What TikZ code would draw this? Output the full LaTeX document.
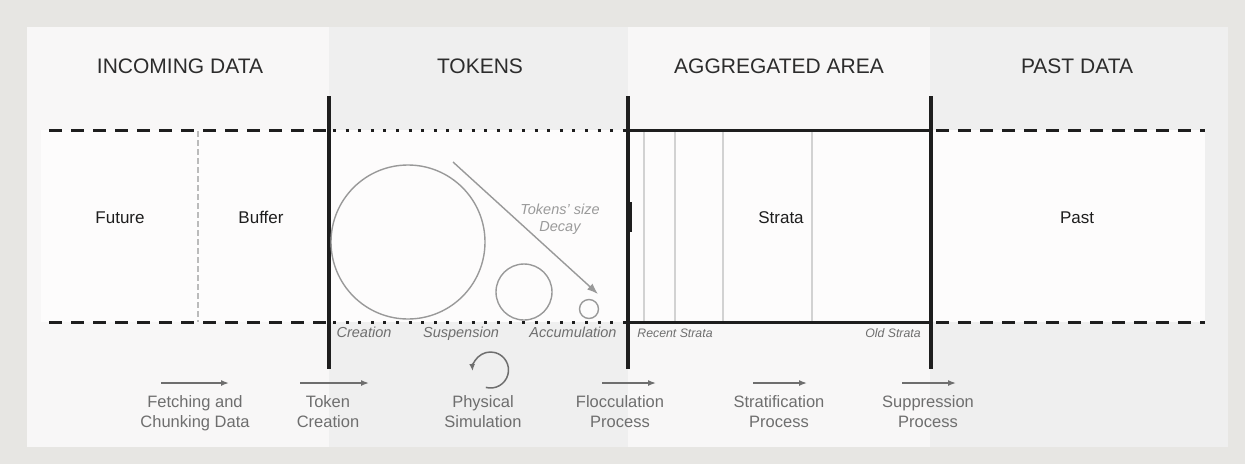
\documentclass[tikz,border=0pt]{standalone}
\usepackage{fontspec}
\setmainfont{Liberation Sans}
\usetikzlibrary{arrows.meta}
\definecolor{outerbg}{HTML}{E7E6E3}
\definecolor{colA}{HTML}{F8F7F7}
\definecolor{colB}{HTML}{EFEFEF}
\definecolor{bandc}{HTML}{FDFCFC}
\definecolor{ink}{HTML}{1E1E1E}
\definecolor{hdrink}{HTML}{2C2C2C}
\definecolor{labelgray}{HTML}{6E6E6E}
\definecolor{lightgray2}{HTML}{9A9A9A}
\definecolor{circgray}{HTML}{999999}
\definecolor{stratline}{HTML}{D2D2D2}
\definecolor{bufline}{HTML}{BBBBBB}
\begin{document}
\begin{tikzpicture}[x=1pt,y=-1pt,
  hdr/.style={anchor=base,inner sep=0pt,text=hdrink,font=\fontsize{21}{24}\selectfont},
  body/.style={anchor=base,inner sep=0pt,text=ink,font=\fontsize{17}{20}\selectfont},
  ital/.style={anchor=base,inner sep=0pt,text=labelgray,font=\fontsize{14.5}{17}\selectfont\itshape},
  smallital/.style={anchor=base,inner sep=0pt,text=labelgray,font=\fontsize{12.3}{15}\selectfont\itshape},
  proc/.style={anchor=north,inner sep=0pt,align=center,text=labelgray,font=\fontsize{16.5}{20}\selectfont},
  dashln/.style={draw=ink,line width=3pt,dash pattern=on 13pt off 9pt},
  dotln/.style={draw=ink,line width=3pt,dash pattern=on 3pt off 9.6pt},
  solidln/.style={draw=ink,line width=3pt},
  wall/.style={draw=ink,line width=4pt},
  procarrow/.style={draw=labelgray,line width=1.5pt,-{Latex[length=8pt,width=6pt]}},
  token/.style={draw=circgray,line width=1.4pt},
  stratum/.style={draw=stratline,line width=1.3pt}
]
\fill[outerbg] (0,0) rectangle (1245,464);
\useasboundingbox (0,0) rectangle (1245,464);
% columns
\fill[colA] (27,27) rectangle (329,447);
\fill[colB] (329,27) rectangle (628,447);
\fill[colA] (628,27) rectangle (930,447);
\fill[colB] (930,27) rectangle (1228,447);
% band
\fill[bandc] (41,130) rectangle (1205,322);
% buffer divider
\draw[bufline,line width=1.2pt,dash pattern=on 6pt off 3pt] (198,131) -- (198,322);
% strata divisions
\foreach \sx in {644,675,723,812} \draw[stratum] (\sx,132) -- (\sx,321);
% horizontal boundaries
\draw[dashln] (49,130) -- (329,130);
\draw[dashln] (49,322) -- (329,322);
\draw[dotln] (333,130) -- (628,130);
\draw[dotln] (333,322) -- (628,322);
\draw[solidln] (628,130) -- (930,130);
\draw[solidln] (628,322) -- (930,322);
\draw[dashln] (936,130) -- (1205,130);
\draw[dashln] (936,322) -- (1205,322);
% walls
\draw[wall] (329,96) -- (329,369);
\draw[wall] (628,96) -- (628,369);
\fill[ink] (628,202) rectangle (632,232);
\draw[wall] (931,96) -- (931,369);
% headers
\node[hdr] (hin) at (180,73) {INCOMING DATA};
\node[hdr] (htok) at (480,73) {TOKENS};
\node[hdr] (hagg) at (779,73) {AGGREGATED AREA};
\node[hdr] (hpast) at (1077,73) {PAST DATA};
% band labels
\node[body] (future) at (120,223) {Future};
\node[body] (buffer) at (261,223) {Buffer};
\node[body] (strata) at (781,223) {Strata};
\node[body] (past) at (1077,223) {Past};
% tokens
\node[token,circle,minimum size=154pt,inner sep=0pt] (bigtok) at (408,242) {};
\node[token,circle,minimum size=56pt,inner sep=0pt] (midtok) at (524,292) {};
\node[token,circle,minimum size=19pt,inner sep=0pt] (smalltok) at (589,309) {};
\coordinate (decayA) at (453,162);
\coordinate (decayB) at (598,294);
\draw[draw=circgray,line width=1.4pt,-{Latex[length=11pt,width=8pt]}] (decayA) -- (decayB);
\node[anchor=north,inner sep=0pt,align=center,text=lightgray2,font=\fontsize{14.5}{17}\selectfont\itshape] (decay) at (560,203.5) {Tokens' size\\Decay};
% stage labels
\node[ital] (creation) at (364,337) {Creation};
\node[ital] (suspension) at (461,337) {Suspension};
\node[ital] (accum) at (573,337) {Accumulation};
\node[smallital] (recent) at (675,337) {Recent Strata};
\node[smallital] (old) at (893,337) {Old Strata};
% process arrows
\coordinate (fa) at (161,383); \coordinate (fb) at (229,383);
\coordinate (ta) at (300,383); \coordinate (tb) at (369,383);
\coordinate (la) at (602,383); \coordinate (lb) at (656,383);
\coordinate (sa) at (753,383); \coordinate (sb) at (807,383);
\coordinate (pa) at (902,383); \coordinate (pb) at (956,383);
\draw[procarrow] (fa) -- (fb);
\draw[procarrow] (ta) -- (tb);
\draw[procarrow] (la) -- (lb);
\draw[procarrow] (sa) -- (sb);
\draw[procarrow] (pa) -- (pb);
\coordinate (physc) at (490.5,370);
\draw[draw=labelgray,line width=1.5pt,-{Latex[length=7pt,width=6pt]}] ([shift={(-105:18pt)}]physc) arc[start angle=-105,end angle=183,radius=18pt];
% process labels
\node[proc] (fetch) at (195,395) {Fetching and\\Chunking Data};
\node[proc] (tokcr) at (328,395) {Token\\Creation};
\node[proc] (phys) at (483,395) {Physical\\Simulation};
\node[proc] (floc) at (620,395) {Flocculation\\Process};
\node[proc] (strat) at (779,395) {Stratification\\Process};
\node[proc] (supp) at (928,395) {Suppression\\Process};
\end{tikzpicture}
\end{document}
